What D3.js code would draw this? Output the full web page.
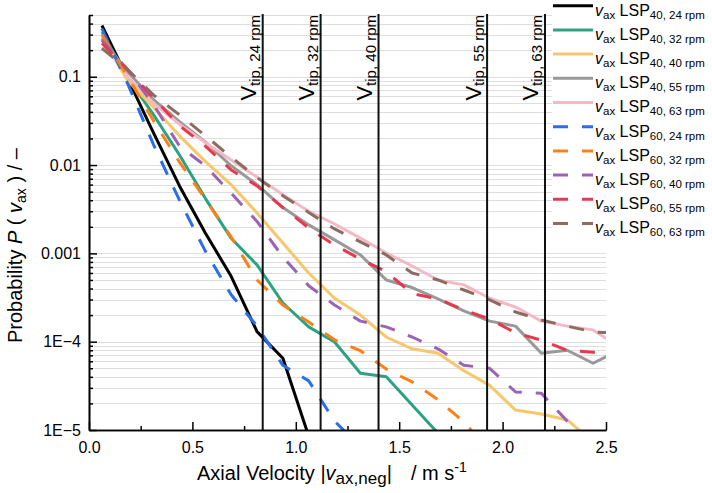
<!DOCTYPE html>
<html>
<head>
<meta charset="utf-8">
<script src="https://cdn.jsdelivr.net/npm/d3@7"></script>
<style>
  html, body { margin: 0; padding: 0; background: #fff; }
  svg { display: block; font-family: "Liberation Sans", Arial, sans-serif; }
</style>
</head>
<body>
<svg id="chart" width="712" height="493"></svg>
<script>
// Velocity bin centres (m/s)
const vBins = [0.0625, 0.1875, 0.3125, 0.4375, 0.5625, 0.6875, 0.8125, 0.9375, 1.0625, 1.1875,
               1.3125, 1.4375, 1.5625, 1.6875, 1.8125, 1.9375, 2.0625, 2.1875, 2.3125, 2.4375, 2.5625];

// Probability of axial velocity per bin
const lsp40_24 = [0.38, 0.095, 0.023, 0.0058, 0.0017, 0.00055, 0.00013, 0.000065, 0.0000085];
const lsp40_32 = [0.32, 0.097, 0.037, 0.013, 0.0042, 0.00148, 0.00074, 0.000274, 0.000147, 0.000099,
                  0.000044, 0.00004, 0.0000192, 0.0000092];
const lsp40_40 = [0.28, 0.09, 0.045, 0.0214, 0.011, 0.006, 0.00287, 0.00131, 0.0006, 0.00031,
                  0.0002, 0.000113, 0.000083, 0.000074, 0.000047, 0.000032, 0.0000168, 0.0000152, 0.000013, 0.0000073];
const lsp40_55 = [0.27, 0.113, 0.055, 0.031, 0.0183, 0.0098, 0.006, 0.0033, 0.0021, 0.00142,
                  0.00096, 0.0005, 0.00041, 0.000305, 0.000223, 0.000171, 0.00015, 0.000074, 0.00008, 0.000057, 0.00008];
const lsp40_63 = [0.26, 0.1, 0.05, 0.029, 0.018, 0.0114, 0.0073, 0.0046, 0.003, 0.00215,
                  0.00149, 0.00101, 0.00072, 0.0005, 0.00044, 0.00031, 0.000247, 0.000171, 0.00015, 0.000136, 0.000088];
const lsp60_24 = [0.35, 0.083, 0.0169, 0.004, 0.00106, 0.00034, 0.00015, 0.000054, 0.000036, 0.0000126, 0.0000064];
const lsp60_32 = [0.3, 0.1, 0.0316, 0.0108, 0.0041, 0.00153, 0.0005, 0.00026, 0.000167, 0.000105,
                  0.000079, 0.000049, 0.000035, 0.000022, 0.0000123, 0.0000058];
const lsp60_40 = [0.26, 0.12, 0.048, 0.0164, 0.0098, 0.0048, 0.0023, 0.00091, 0.00043, 0.00026,
                  0.000171, 0.000147, 0.000113, 0.000083, 0.000054, 0.00005, 0.000027, 0.000026, 0.0000126, 0.0000068];
const lsp60_55 = [0.24, 0.12, 0.057, 0.028, 0.0164, 0.0088, 0.0058, 0.0033, 0.00194, 0.00124,
                  0.00086, 0.00062, 0.00035, 0.000305, 0.000229, 0.00018, 0.000126, 0.000104, 0.00008, 0.000076, 0.000076];
const lsp60_63 = [0.21, 0.12, 0.062, 0.037, 0.0215, 0.0123, 0.0072, 0.0045, 0.0029, 0.00189,
                  0.00135, 0.00096, 0.0006, 0.0005, 0.000385, 0.000297, 0.000217, 0.000176, 0.00015, 0.000129, 0.000125];

// Legend / series descriptors
const seriesValues = [lsp40_24, lsp40_32, lsp40_40, lsp40_55, lsp40_63, lsp60_24, lsp60_32, lsp60_40, lsp60_55, lsp60_63];
const seriesLsp    = ["40", "40", "40", "40", "40", "60", "60", "60", "60", "60"];
const seriesRpm    = ["24", "32", "40", "55", "63", "24", "32", "40", "55", "63"];
const seriesColors = ["#000000", "#2ca283", "#f6c76c", "#999999", "#f5b9c5",
                      "#2a6ee8", "#fb8117", "#9b62b5", "#e5394e", "#8c6c62"];
const seriesDashed = [false, false, false, false, false, true, true, true, true, true];

// Blade tip speeds
const tipRpm   = ["24", "32", "40", "55", "63"];
const tipSpeed = [0.84, 1.12, 1.40, 1.925, 2.205];

// Axis ticks
const xTicks = [0, 0.5, 1.0, 1.5, 2.0, 2.5];
const xMinor = [0.25, 0.75, 1.25, 1.75, 2.25];
const yTicks = [1e-5, 1e-4, 1e-3, 1e-2, 1e-1];
const yTickLabels = ["1E\u22125", "1E\u22124", "0.001", "0.01", "0.1"];

const svg = d3.select("#chart");
const W = 712, H = 493;
svg.append("rect").attr("width", W).attr("height", H).attr("fill", "#fff");

const x = d3.scaleLinear().domain([0, 2.5]).range([89, 606]);
const y = d3.scaleLog().domain([1e-5, 0.5]).range([430, 15]);

// minor log ticks (2..9 per decade)
const yMinor = [];
[1e-5, 1e-4, 1e-3, 1e-2, 1e-1].forEach(d => {
  for (let k = 2; k <= 9; k++) { const v = d * k; if (v <= 0.5 + 1e-9) yMinor.push(v); }
});

// horizontal grid
const grid = svg.append("g");
grid.selectAll("line").data(yTicks.concat(yMinor)).join("line")
  .attr("x1", x(0)).attr("x2", x(2.5))
  .attr("y1", d => Math.round(y(d)) + 0.5).attr("y2", d => Math.round(y(d)) + 0.5)
  .attr("stroke", "#dedede").attr("stroke-width", 1);

// data lines
svg.append("clipPath").attr("id", "plotClip").append("rect")
  .attr("x", x(0)).attr("y", y(0.5)).attr("width", x(2.5) - x(0)).attr("height", y(1e-5) - y(0.5));

const line = d3.line().x((d, i) => x(vBins[i])).y(d => y(d));
const lines = svg.append("g").attr("clip-path", "url(#plotClip)");
seriesValues.forEach((vals, i) => {
  lines.append("path").datum(vals)
    .attr("d", line)
    .attr("fill", "none")
    .attr("stroke", seriesColors[i])
    .attr("stroke-width", 3)
    .attr("stroke-linejoin", "round")
    .attr("stroke-dasharray", seriesDashed[i] ? "15,14" : null);
});

// tip-speed markers
const tips = svg.append("g");
tipSpeed.forEach((v, i) => {
  tips.append("line")
    .attr("x1", x(v)).attr("x2", x(v))
    .attr("y1", y(0.5) - 1).attr("y2", y(1e-5))
    .attr("stroke", "#111").attr("stroke-width", 2);
  const t = tips.append("text")
    .attr("transform", `translate(${x(v) - 6.5},${y(0.5)}) rotate(-90)`)
    .attr("text-anchor", "end").attr("fill", "#000");
  t.append("tspan").attr("font-size", 22).text("V");
  t.append("tspan").attr("font-size", 15).attr("dy", 3.5).text(`tip, ${tipRpm[i]} rpm`);
});

// axes
const axisStyle = g => {
  g.select(".domain").attr("stroke", "#000").attr("stroke-width", 1.6);
  g.selectAll(".tick line").attr("stroke", "#000").attr("stroke-width", 1.5);
  g.selectAll(".tick text").attr("font-size", 16).attr("fill", "#000")
    .attr("font-family", "'Liberation Sans', Arial, sans-serif");
};

svg.append("g").attr("transform", `translate(0,${y(1e-5)})`)
  .call(d3.axisBottom(x).tickValues(xMinor).tickSize(-4).tickSizeOuter(0).tickFormat(""))
  .call(axisStyle);
svg.append("g").attr("transform", `translate(0,${y(1e-5)})`)
  .call(d3.axisBottom(x).tickValues(xTicks).tickSize(-8).tickSizeOuter(0).tickPadding(12)
        .tickFormat(d3.format(".1f")))
  .call(axisStyle);

svg.append("g").attr("transform", `translate(${x(0)},0)`)
  .call(d3.axisLeft(y).tickValues(yMinor).tickSize(-4).tickSizeOuter(0).tickFormat(""))
  .call(axisStyle);
svg.append("g").attr("transform", `translate(${x(0)},0)`)
  .call(d3.axisLeft(y).tickValues(yTicks).tickSize(-8).tickSizeOuter(0).tickPadding(8)
        .tickFormat((d, i) => yTickLabels[i]))
  .call(axisStyle);

// axis titles
const xt = svg.append("text").attr("x", 197).attr("y", 480).attr("font-size", 20).attr("fill", "#000");
xt.append("tspan").text("Axial Velocity |");
xt.append("tspan").attr("font-style", "italic").text("v");
xt.append("tspan").attr("font-size", 17).attr("dy", 4).text("ax,neg");
xt.append("tspan").attr("dy", -4).text("|");
xt.append("tspan").attr("x", 411).text("/ m s");
xt.append("tspan").attr("font-size", 14).attr("dy", -8).text("-1");

const yt = svg.append("text").attr("transform", "translate(22,343) rotate(-90)")
  .attr("font-size", 20).attr("fill", "#000");
yt.append("tspan").text("Probability ");
yt.append("tspan").attr("font-style", "italic").text("P");
yt.append("tspan").text(" ( ");
yt.append("tspan").attr("font-style", "italic").text("v");
yt.append("tspan").attr("font-size", 14).attr("dy", 4).text("ax");
yt.append("tspan").attr("dy", -4).text(" ) / \u2013");

// legend
const lg = svg.append("g");
lg.append("rect").attr("x", 552).attr("y", 0).attr("width", 160).attr("height", 248).attr("fill", "#fff");
seriesValues.forEach((vals, i) => {
  const ly = 5.7 + 24.2 * i;
  lg.append("line").attr("x1", 553).attr("x2", 593).attr("y1", ly).attr("y2", ly)
    .attr("stroke", seriesColors[i]).attr("stroke-width", 3)
    .attr("stroke-dasharray", seriesDashed[i] ? "15,14" : null);
  const t = lg.append("text").attr("x", 595).attr("y", ly + 9.8).attr("font-size", 16).attr("fill", "#000");
  t.append("tspan").attr("font-style", "italic").text("v");
  t.append("tspan").attr("font-size", 11.5).attr("dy", 3).text("ax");
  t.append("tspan").attr("dy", -3).text(" LSP");
  t.append("tspan").attr("font-size", 11.5).attr("dy", 3).text(`${seriesLsp[i]}, ${seriesRpm[i]} rpm`);
});
</script>
</body>
</html>
